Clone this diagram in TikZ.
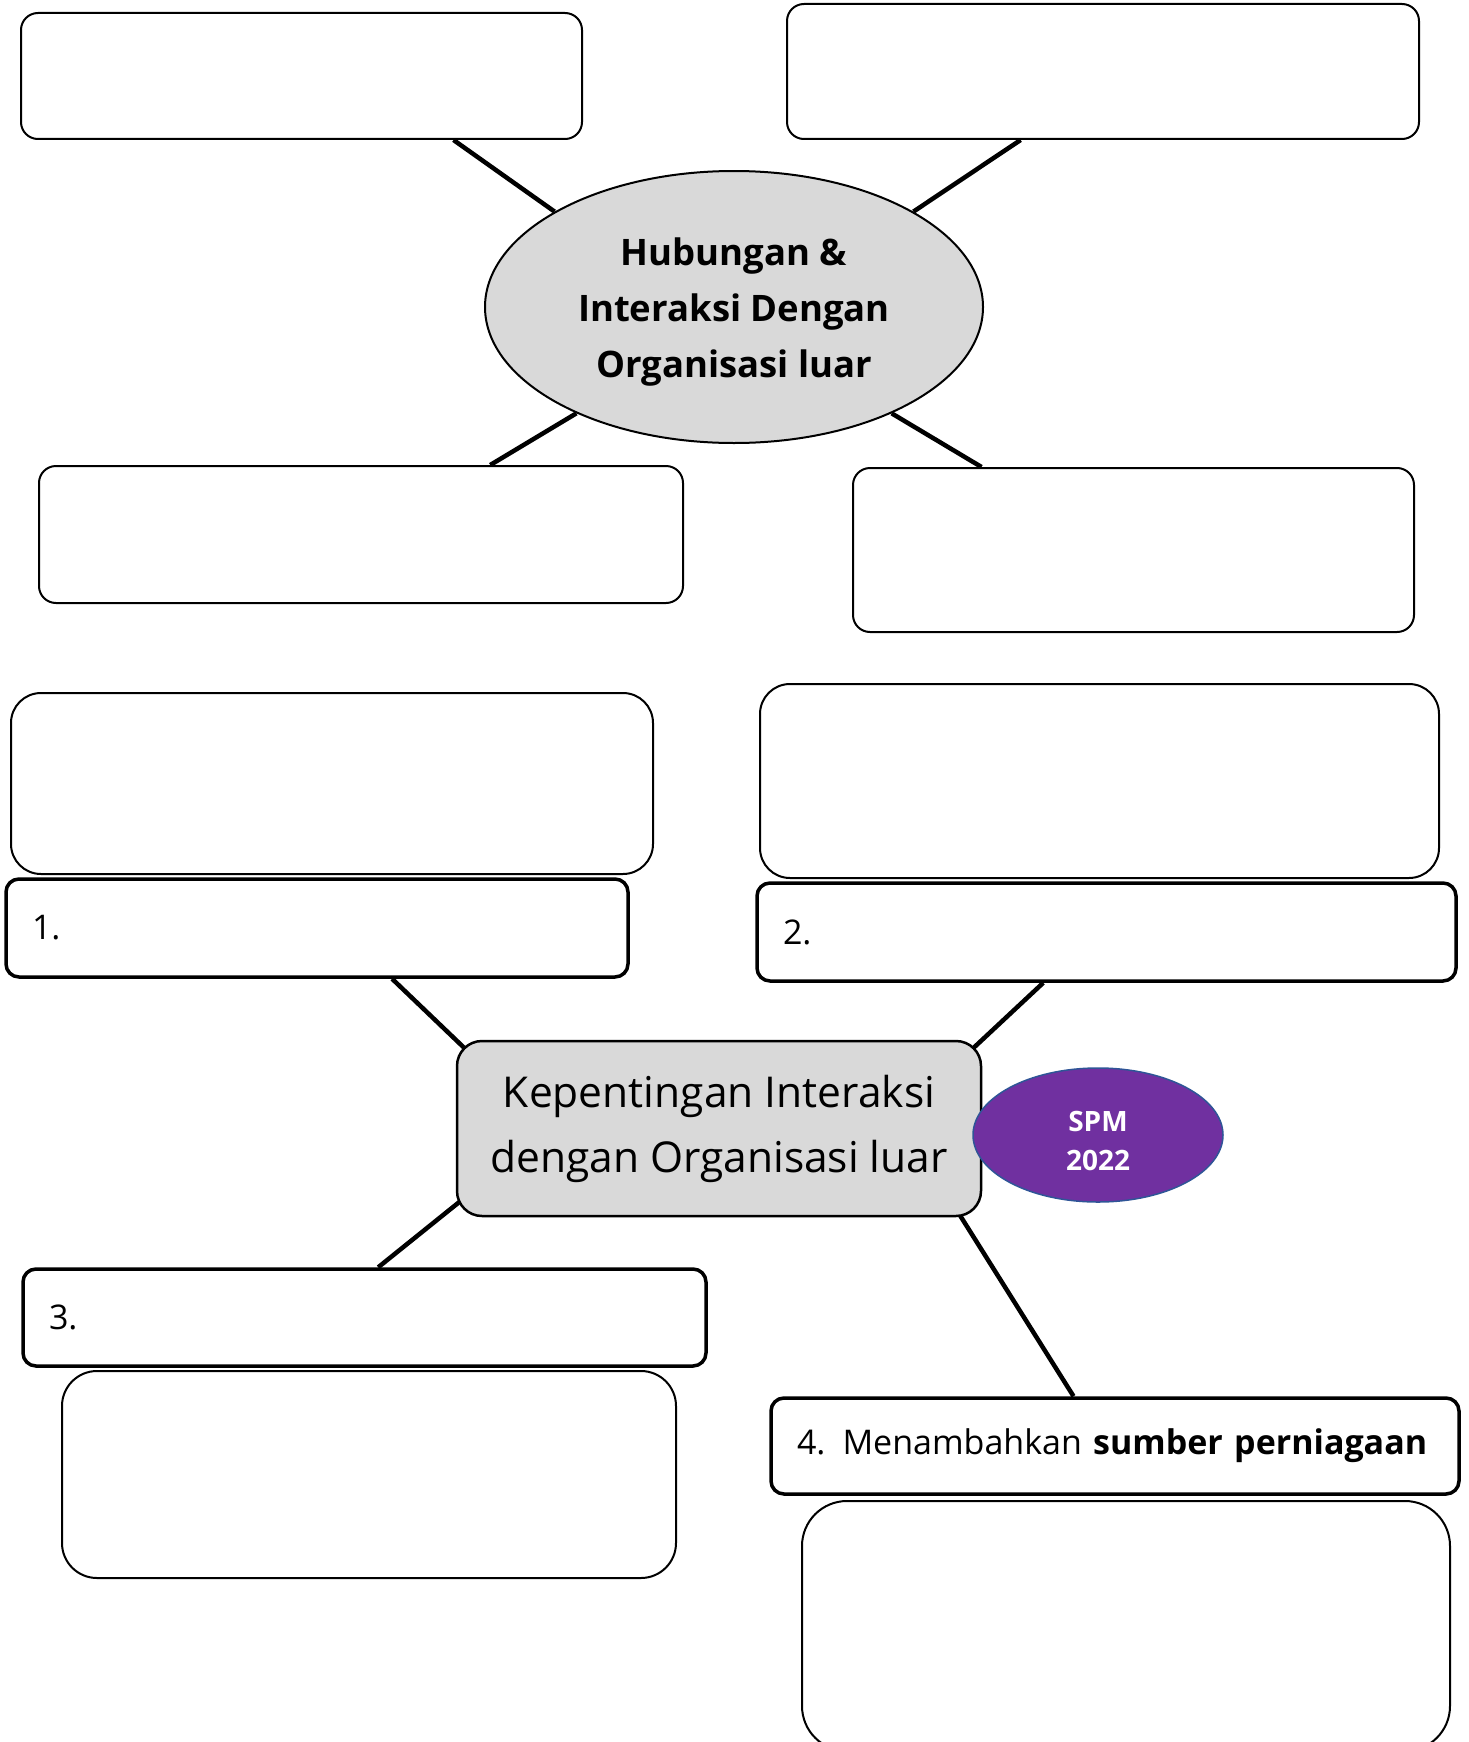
\documentclass[tikz,border=0pt]{standalone}
\usepackage{fontspec}
\setmainfont{Open Sans}
\usetikzlibrary{shapes.geometric, calc, backgrounds}
\definecolor{boxgray}{HTML}{D9D9D9}
\definecolor{spmpurple}{HTML}{7030A0}
\definecolor{spmedge}{HTML}{2F5597}

\begin{document}
\begin{tikzpicture}[x=1pt, y=-1pt,
	blank/.style={draw, line width=2pt, fill=white, rounded corners=17pt, inner sep=0pt},
	numbox/.style={draw, line width=3.5pt, fill=white, rounded corners=13pt, inner xsep=26pt, inner ysep=0pt, align=left, font=\fontsize{34}{40}\selectfont},
	link/.style={line width=4.5pt}]
	
	\useasboundingbox (0,0) rectangle (1469,1742);
	
	% 1. Top map: Hubungan & Interaksi
	\node[ellipse, draw, line width=2pt, fill=boxgray, minimum width=498pt, minimum height=272pt] (hub) at (734,307) {};
	\node[align=center, font=\bfseries\fontsize{36.5}{56}\selectfont] (hubtext) at ($(hub.center)+(0,5)$) {Hubungan \&\\Interaksi Dengan\\Organisasi luar};
	\node[blank, minimum width=561pt, minimum height=126pt] (tl) at (301.5,76) {};
	\node[blank, minimum width=632pt, minimum height=135pt] (tr) at (1103,71.5) {};
	\node[blank, minimum width=644pt, minimum height=137pt] (ml) at (361,534.5) {};
	\node[blank, minimum width=561pt, minimum height=164pt] (mr) at (1133.5,550) {};
	
	% 2. Lower map: Kepentingan Interaksi
	\node[blank, rounded corners=30pt, minimum width=642pt, minimum height=181pt] (noteA) at (332,783.5) {};
	\node[blank, rounded corners=30pt, minimum width=679pt, minimum height=194pt] (noteB) at (1099.5,781) {};
	\node[numbox, text width=570pt, minimum height=98pt] (n1) at (317,928) {1.};
	\node[numbox, text width=647pt, minimum height=98pt] (n2) at (1106.5,932) {2.};
	\node[draw, line width=2.5pt, fill=boxgray, rounded corners=25pt, minimum width=524pt, minimum height=175pt, align=center, font=\fontsize{42.5}{65}\selectfont] (ctr) at (719,1128.5) {Kepentingan Interaksi\\dengan Organisasi luar};
	\node[ellipse, draw=spmedge, line width=1.5pt, fill=spmpurple, minimum width=250pt, minimum height=134pt] (spm) at (1098,1135) {};
	\node[text=white, align=center, font=\bfseries\fontsize{28}{39}\selectfont] (spmtext) at ($(spm.center)+(0,6)$) {SPM\\2022};
	\node[numbox, text width=631pt, minimum height=97pt] (n3) at (364.5,1317.5) {3.};
	\node[blank, rounded corners=35pt, minimum width=614pt, minimum height=207pt] (note3) at (369,1474.5) {};
	\node[numbox, text width=636pt, minimum height=96pt] (n4) at (1115,1446) {4. Menambahkan \textbf{sumber perniagaan}};
	\node[blank, rounded corners=45pt, minimum width=648pt, minimum height=250pt] (note4) at (1126,1626) {};
	
	% connector ends on the boxes
	\coordinate (e1) at ($(n1.south west)!0.62!(n1.south east)$);
	\coordinate (e2) at ($(n2.south west)!0.41!(n2.south east)$);
	\coordinate (e3) at ($(n3.north west)!0.52!(n3.north east)$);
	\coordinate (e4) at ($(n4.north west)!0.44!(n4.north east)$);
	\coordinate (c3) at ($(ctr.south west)+(2,-14)$);
	\coordinate (c4) at ($(ctr.south west)!0.96!(ctr.south east)$);
	
	% connectors
	\begin{scope}[on background layer]
		\draw[link] ($(tl.south west)!0.77!(tl.south east)$) -- (hub.152.8);
		\draw[link] ($(tr.south west)!0.37!(tr.south east)$) -- (hub.28.1);
		\draw[link] ($(ml.north west)!0.70!(ml.north east)$) -- (hub.214.6);
		\draw[link] ($(mr.north west)!0.23!(mr.north east)$) -- (hub.326.4);
		\draw[link] (e1) -- ($(e1)!1.25!(ctr.north west)$);
		\draw[link] (e2) -- ($(e2)!1.25!(ctr.north east)$);
		\draw[link] (e3) -- ($(e3)!1.25!(c3)$);
		\draw[link] (e4) -- ($(e4)!1.05!(c4)$);
	\end{scope}
	
\end{tikzpicture}
\end{document}
